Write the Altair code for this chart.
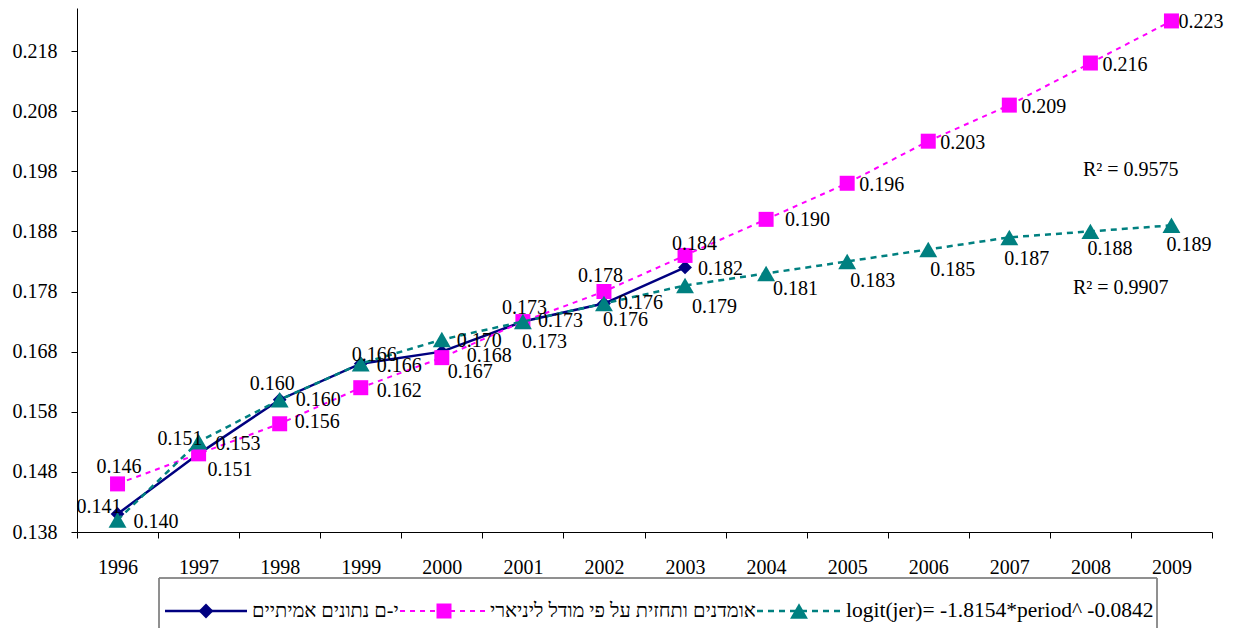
import altair as alt
import pandas as pd

# ---------------- data ----------------
years = ["1996", "1997", "1998", "1999", "2000", "2001", "2002",
         "2003", "2004", "2005", "2006", "2007", "2008", "2009"]
actual = [0.141, 0.151, 0.160, 0.166, 0.168, 0.173, 0.176, 0.182]
linear = [0.146, 0.151, 0.156, 0.162, 0.167, 0.173, 0.178, 0.184,
          0.190, 0.196, 0.203, 0.209, 0.216, 0.223]
logit = [0.140, 0.153, 0.160, 0.166, 0.170, 0.173, 0.176, 0.179,
         0.181, 0.183, 0.185, 0.187, 0.188, 0.189]
series_names = ["י-ם נתונים אמיתיים",
                "אומדנים ותחזית על פי מודל ליניארי",
                "logit(jer)= -1.8154*period^ -0.0842"]
y_ticks = [0.138, 0.148, 0.158, 0.168, 0.178, 0.188, 0.198, 0.208, 0.218]
r2_labels = ["R² = 0.9575", "R² = 0.9907"]

# ---------------- label placement (style) ----------------
actual_off = [(-41, -7), (-41, -15), (-30, -16), (-9, -9), (25, 4),
              (-21, -14), (-1, 16), (13, 2)]
linear_off = [(-21, -17), (9, 16), (15, -2), (16, 3), (6, 14), (-1, 20),
              (-26, -16), (-13, -11), (19, 1), (12, 2), (12, 2), (12, 2),
              (12, 2), (7, 1)]
logit_off = [(16, 2), (17, 2), (16, 0), (16, 2), (15, 1), (15, -1),
             (14, -1), (7, 22), (7, 16), (3, 20), (2, 21), (-5, 22),
             (-3, 18), (-5, 20)]

FONT = "Liberation Serif"
FS = 20
W, H = 1135, 524
NAVY, MAGENTA, TEAL = "#000080", "#FF00FF", "#008080"

xscale = alt.Scale(type="band", domain=years, paddingInner=0, paddingOuter=0)
yscale = alt.Scale(domain=[0.138, 0.225152], nice=False, zero=False)
xaxis = alt.Axis(title=None, tickBand="extent", tickSize=6, labelPadding=19,
                 labelAngle=0, grid=False)
yaxis = alt.Axis(title=None, values=y_ticks, format=".3f", tickSize=6,
                 labelPadding=14, grid=False)


def X():
    return alt.X("year:O", scale=xscale, bandPosition=0.5, axis=xaxis)


def Y():
    return alt.Y("value:Q", scale=yscale, axis=yaxis)


df_a = pd.DataFrame({"year": years[:len(actual)], "value": actual})
df_l = pd.DataFrame({"year": years[:len(linear)], "value": linear})
df_g = pd.DataFrame({"year": years[:len(logit)], "value": logit})

layers = []

# series: actual
layers.append(alt.Chart(df_a).mark_line(color=NAVY, strokeWidth=2.5).encode(x=X(), y=Y()))
layers.append(alt.Chart(df_a).mark_point(shape="diamond", filled=True, size=190,
                                         color=NAVY, opacity=1).encode(x=X(), y=Y()))
# series: linear
layers.append(alt.Chart(df_l).mark_line(color=MAGENTA, strokeWidth=2,
                                        strokeDash=[5, 5]).encode(x=X(), y=Y()))
layers.append(alt.Chart(df_l).mark_point(shape="square", filled=True, size=225,
                                         color=MAGENTA, opacity=1).encode(x=X(), y=Y()))
# series: logit
layers.append(alt.Chart(df_g).mark_line(color=TEAL, strokeWidth=2.5,
                                        strokeDash=[6, 5]).encode(x=X(), y=Y()))
layers.append(alt.Chart(df_g).mark_point(shape="triangle-up", filled=True, size=320,
                                         color=TEAL, opacity=1).encode(x=X(), y=Y()))

# data labels
for df, offs in ((df_a, actual_off), (df_l, linear_off), (df_g, logit_off)):
    for yr, (dx, dy) in zip(df["year"], offs):
        layers.append(
            alt.Chart(df).transform_filter(alt.datum.year == yr)
            .mark_text(align="left", baseline="middle", dx=dx, dy=dy,
                       font=FONT, fontSize=FS, color="black")
            .encode(x=X(), y=Y(), text=alt.Text("value:Q", format=".3f"))
        )

# R^2 annotations
for lab, (px, py) in zip(r2_labels, [(1006, 162), (996, 280)]):
    layers.append(
        alt.Chart(pd.DataFrame({"label": [lab]}))
        .mark_text(align="left", baseline="middle", font=FONT, fontSize=FS, color="black")
        .encode(x=alt.value(px), y=alt.value(py), text="label:N")
    )

# legend box
layers.append(
    alt.Chart(pd.DataFrame({"name": series_names}))
    .mark_rect(filled=False, stroke="#808080", strokeWidth=1)
    .encode(x=alt.value(82), x2=alt.value(1080), y=alt.value(570), y2=alt.value(700))
)

LY = 603
legend_spec = [
    (series_names[0], NAVY, None, 2.5, "diamond", 220, 88, 170, 129, 175, FS),
    (series_names[1], MAGENTA, [5, 5], 2, "square", 225, 323, 408, 367, 413, FS),
    (series_names[2], TEAL, [6, 5], 2.5, "triangle-up", 320, 680, 764, 722, 769, 21.5),
]
for name, col, dash, sw, shp, sz, x1, x2, xm, xt, fs in legend_spec:
    one = pd.DataFrame({"name": [name]})
    rule_kw = dict(color=col, strokeWidth=sw)
    if dash is not None:
        rule_kw["strokeDash"] = dash
    layers.append(alt.Chart(one).mark_rule(**rule_kw)
                  .encode(x=alt.value(x1), x2=alt.value(x2), y=alt.value(LY)))
    layers.append(alt.Chart(one).mark_point(shape=shp, filled=True, size=sz,
                                            color=col, opacity=1)
                  .encode(x=alt.value(xm), y=alt.value(LY)))
    layers.append(alt.Chart(one).mark_text(align="left", baseline="middle",
                                           font=FONT, fontSize=fs, color="black")
                  .encode(x=alt.value(xt), y=alt.value(LY), text="name:N"))

chart = (
    alt.layer(*layers)
    .properties(width=W, height=H, autosize=alt.AutoSizeParams(type="none"),
                padding={"left": 69, "top": 0, "right": 13, "bottom": 96},
                background="white")
    .configure_view(strokeWidth=0)
    .configure_axis(domainColor="black", tickColor="black", labelColor="black",
                    labelFont=FONT, labelFontSize=FS, domainWidth=1, tickWidth=1)
)

chart.save("out.html", embed_options={"renderer": "svg", "actions": False})
